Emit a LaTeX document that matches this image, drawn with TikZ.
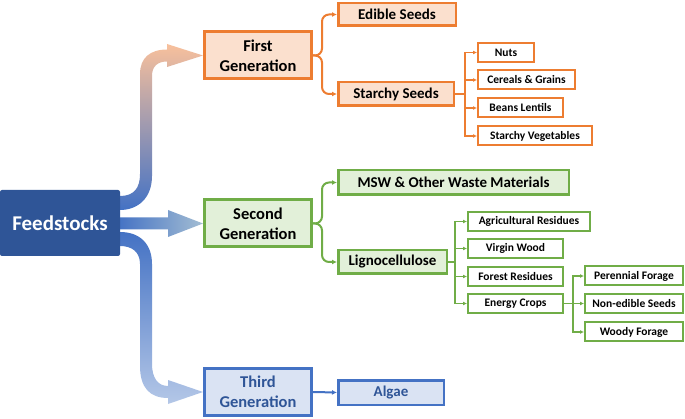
\documentclass[tikz,border=0pt]{standalone}
\usepackage{fontspec}
\setmainfont{Carlito}
\usetikzlibrary{arrows.meta,backgrounds}

\definecolor{feedblue}{HTML}{2F5597}
\definecolor{orangeline}{HTML}{ED7D31}
\definecolor{orangefill}{HTML}{FBE0CE}
\definecolor{greenline}{HTML}{70AD47}
\definecolor{greenfill}{HTML}{E2F0D9}
\definecolor{blueline}{HTML}{4472C4}
\definecolor{bluefill}{HTML}{DAE3F3}
\definecolor{peach}{HTML}{F8C09C}
\definecolor{paleblue}{HTML}{B4C7E7}
\definecolor{greyblue}{HTML}{A3BDD3}

\begin{document}
\begin{tikzpicture}[x=1pt,y=-1pt,
    >={Latex[length=5pt,width=5pt]},
    genbox/.style={draw,line width=3pt,minimum width=107pt,minimum height=47pt,inner sep=0pt,align=center,font=\bfseries\fontsize{16.5}{20}\selectfont},
    midbox/.style={draw,line width=2.5pt,inner sep=0pt,font=\bfseries\fontsize{15}{17}\selectfont},
    leafbox/.style={draw,line width=2pt,fill=white,minimum height=19pt,inner sep=0pt,font=\bfseries\fontsize{11.5}{13}\selectfont},
    brace/.style={line width=2pt,rounded corners=7pt,->},
    bus/.style={line width=1.5pt,-{Latex[length=4pt,width=4pt]}}]
  \useasboundingbox (0,0) rectangle (685,419);

  % root
  \node[fill=feedblue,text=white,rounded corners=2pt,minimum width=120pt,minimum height=66pt,inner sep=0pt,
        font=\bfseries\fontsize{21}{24}\selectfont] (feed) at (60,223) {Feedstocks};

  % generations
  \node[genbox,draw=orangeline,fill=orangefill] (gen1) at (258,55.5) {First\\Generation};
  \node[genbox,draw=greenline,fill=greenfill] (gen2) at (258,223.5) {Second\\Generation};
  \node[genbox,draw=blueline,fill=bluefill,text=feedblue] (gen3) at (258,392) {Third\\Generation};

  % first generation
  \node[midbox,draw=orangeline,fill=orangefill,minimum width=117.5pt,minimum height=22.5pt] (edible) at (397,14.5) {Edible Seeds};
  \node[midbox,draw=orangeline,fill=orangefill,minimum width=115.5pt,minimum height=23.5pt] (starchy) at (396,94) {Starchy Seeds};
  \node[leafbox,draw=orangeline,minimum width=56pt] (nuts) at (506,52.5) {Nuts};
  \node[leafbox,draw=orangeline,minimum width=97pt] (cereals) at (526.5,80) {Cereals \& Grains};
  \node[leafbox,draw=orangeline,minimum width=85pt] (beans) at (520.5,108) {Beans Lentils};
  \node[leafbox,draw=orangeline,minimum width=114pt] (starveg) at (535,136) {Starchy Vegetables};

  % second generation
  \node[midbox,draw=greenline,fill=greenfill,minimum width=230.5pt,minimum height=24.5pt] (msw) at (453.5,182.5) {MSW \& Other Waste Materials};
  \node[midbox,draw=greenline,fill=greenfill,minimum width=108.5pt,minimum height=23.5pt] (ligno) at (392.5,262) {Lignocellulose};
  \node[leafbox,draw=greenline,minimum width=122pt] (agri) at (529,221.5) {Agricultural Residues};
  \node[leafbox,draw=greenline,minimum width=95pt] (virgin) at (515.5,248.5) {Virgin Wood};
  \node[leafbox,draw=greenline,minimum width=95pt] (forest) at (515.5,276.5) {Forest Residues};
  \node[leafbox,draw=greenline,minimum width=95pt] (energy) at (515.5,303.5) {Energy Crops};
  \node[leafbox,draw=greenline,minimum width=98pt] (peren) at (634,276) {Perennial Forage};
  \node[leafbox,draw=greenline,minimum width=98pt] (nonedible) at (634,303.5) {Non-edible Seeds};
  \node[leafbox,draw=greenline,minimum width=98pt] (woody) at (634,332) {Woody Forage};

  % third generation
  \node[midbox,draw=blueline,fill=bluefill,text=feedblue,minimum width=105.5pt,minimum height=24.5pt] (algae) at (391,392.5) {Algae};

  % connectors
  \draw[brace,orangeline] (gen1.east) -- ++(9,0) |- (edible.west);
  \draw[brace,orangeline] (gen1.east) -- ++(9,0) |- (starchy.west);
  \draw[orangeline,line width=1.5pt] (starchy.east) -- ++(10,0) coordinate (sbus);
  \foreach \n in {nuts,cereals,beans,starveg}
    \draw[bus,orangeline] (sbus) |- (\n.west);

  \draw[brace,greenline] (gen2.east) -- ++(9,0) |- (msw.west);
  \draw[brace,greenline] (gen2.east) -- ++(9,0) |- (ligno.west);
  \draw[greenline,line width=1.5pt] (ligno.east) -- ++(7,0) coordinate (lbus);
  \foreach \n in {agri,virgin,forest,energy}
    \draw[bus,greenline] (lbus) |- (\n.west);
  \draw[greenline,line width=1.5pt] (energy.east) -- ++(9,0) coordinate (ebus);
  \foreach \n in {peren,nonedible,woody}
    \draw[bus,greenline] (ebus) |- (\n.west);

  \draw[blueline,line width=2pt,->] (gen3.east) -- (algae.west);

  % big arrows
  \begin{pgfonlayer}{background}
    \shade[top color=peach,bottom color=blueline] (120,196) .. controls (134,196) and (140,188) .. (140,174)
      -- (140,74) .. controls (140,58) and (150,49.5) .. (167,49.5) -- (167,44) -- (gen1.west) -- (167,67)
      -- (167,61.5) .. controls (158,61.5) and (152,66) .. (152,76) -- (152,176)
      .. controls (152,198) and (138,210) .. (120,210) -- cycle;
    \shade[left color=blueline,right color=greyblue] (118,217.5) -- (168,217.5) -- (168,210) -- (gen2.west)
      -- (168,237) -- (168,229.5) -- (118,229.5) -- cycle;
    \shade[top color=blueline,bottom color=paleblue] (120,232) .. controls (140,232) and (152,244) .. (152,264)
      -- (152,364) .. controls (152,378) and (158,386) .. (168,386) -- (168,380) -- (gen3.west) -- (168,404)
      -- (168,398) .. controls (150,398) and (140,388) .. (140,366) -- (140,264)
      .. controls (140,252) and (132,246) .. (120,246) -- cycle;
  \end{pgfonlayer}
\end{tikzpicture}
\end{document}
